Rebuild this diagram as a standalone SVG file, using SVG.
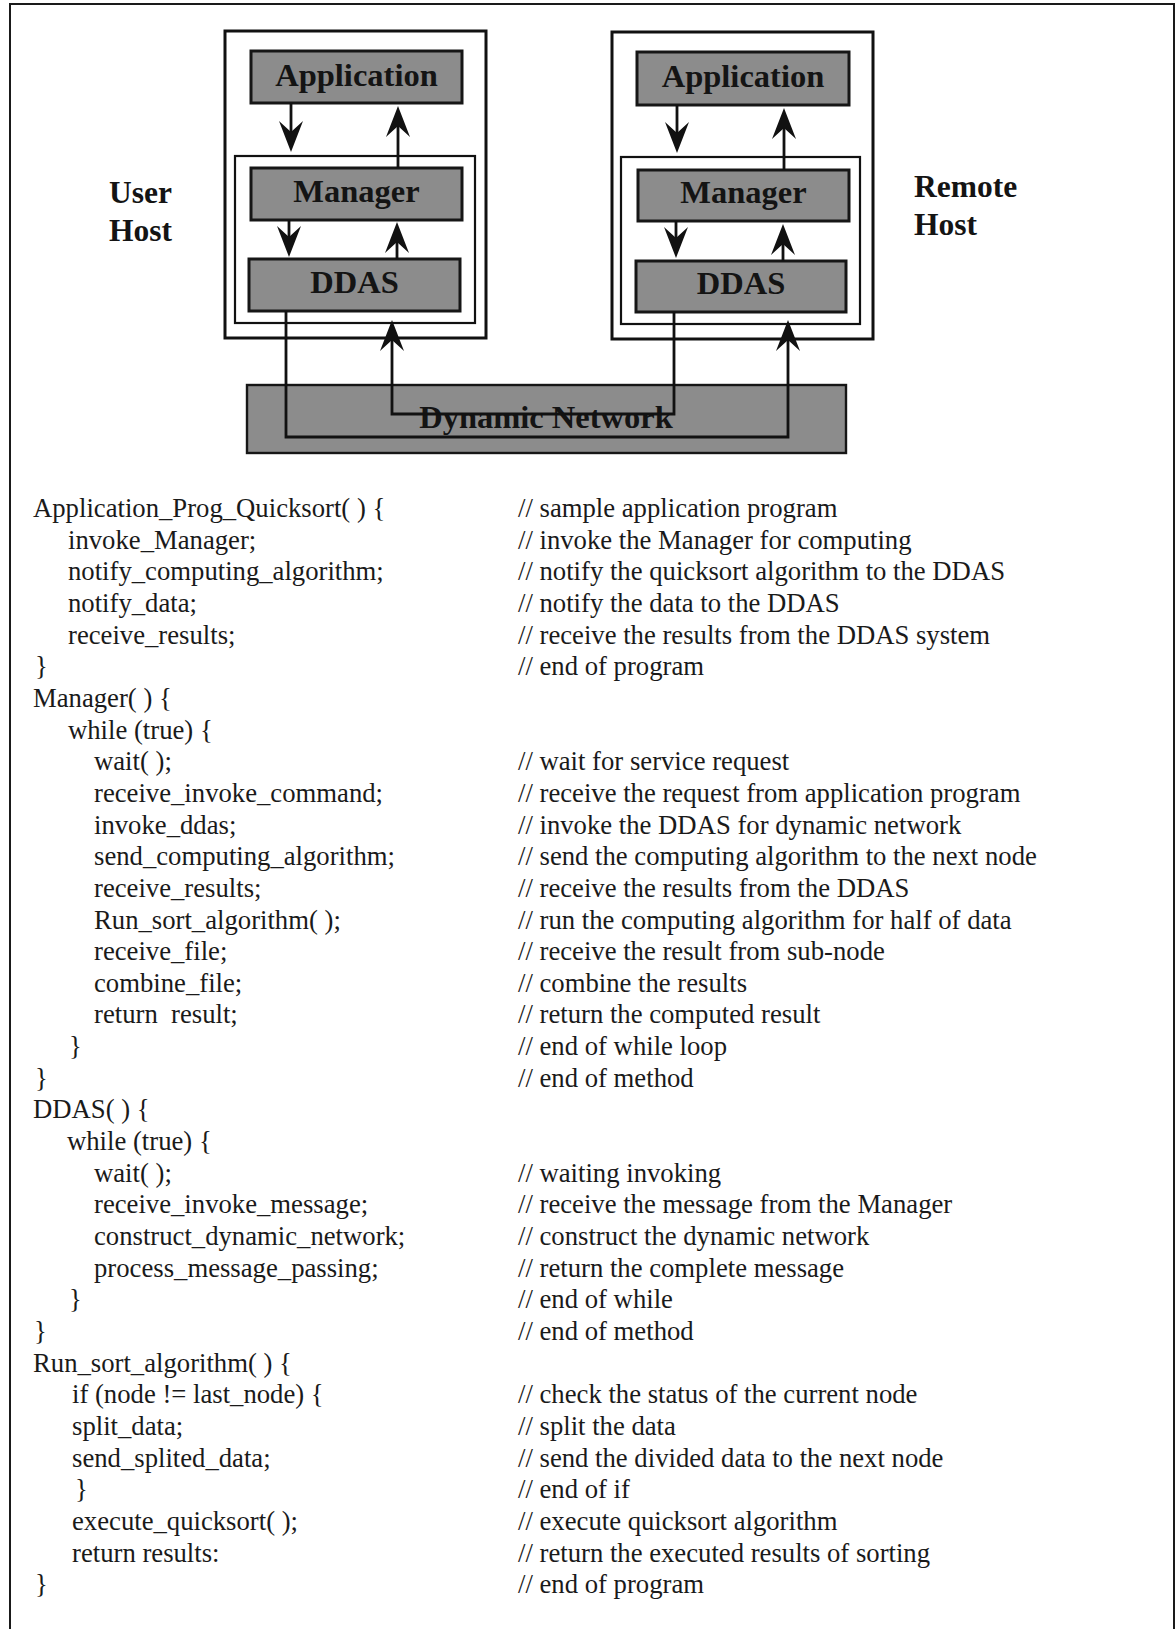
<svg xmlns="http://www.w3.org/2000/svg" width="1176" height="1629" viewBox="0 0 1176 1629">
  <style>
    .host { fill: #ffffff; stroke: #111111; stroke-width: 3; }
    .inner { fill: #ffffff; stroke: #111111; stroke-width: 2.2; }
    .box { fill: #8c8c8c; stroke: #161616; stroke-width: 3; }
    .net { fill: #8c8c8c; stroke: #161616; stroke-width: 2.4; }
    .lbl { font-family: "Liberation Serif", "Times New Roman", serif; font-weight: bold; font-size: 32.5px; fill: #141414; text-anchor: middle; }
    .side { font-family: "Liberation Serif", "Times New Roman", serif; font-weight: bold; font-size: 31.5px; fill: #141414; }
    .code { font-family: "Liberation Serif", "Times New Roman", serif; font-size: 26.7px; fill: #1a1a1a; }
    .flow { fill: none; stroke: #111111; stroke-width: 2.8; marker-end: url(#arrow); }
  </style>
  <defs>
    <!-- notched arrowhead; line ends 10px short of the tip -->
    <marker id="arrow" markerUnits="userSpaceOnUse" viewBox="0 0 31 24" refX="21" refY="12" markerWidth="31" markerHeight="24" orient="auto">
      <path d="M0,0 L31,12 L0,24 L11,12 Z" fill="#111111"/>
    </marker>
  </defs>

  <rect width="1176" height="1629" fill="#ffffff"/>

  <!-- page frame (open at the bottom) -->
  <path d="M10,1629 V4 H1174 V1629" fill="none" stroke="#1a1a1a" stroke-width="2"/>

  <!-- user host -->
  <g id="user-host">
    <rect class="host" x="225" y="31" width="261" height="307"/>
    <rect class="inner" x="235" y="156" width="240" height="167"/>
    <text class="side" x="109" y="203">User</text>
    <text class="side" x="109" y="241">Host</text>
  </g>
  <g id="user-application">
    <rect class="box" x="251" y="51" width="211" height="52"/>
    <text class="lbl" x="356.5" y="86">Application</text>
  </g>
  <g id="user-manager">
    <rect class="box" x="251" y="168" width="211" height="52"/>
    <text class="lbl" x="356.5" y="202">Manager</text>
  </g>
  <g id="user-ddas">
    <rect class="box" x="249" y="259" width="211" height="52"/>
    <text class="lbl" x="354.5" y="293">DDAS</text>
  </g>

  <!-- remote host -->
  <g id="remote-host">
    <rect class="host" x="612" y="32" width="261" height="307"/>
    <rect class="inner" x="621" y="157" width="239" height="167"/>
    <text class="side" x="914" y="197">Remote</text>
    <text class="side" x="914" y="235">Host</text>
  </g>
  <g id="remote-application">
    <rect class="box" x="637" y="52" width="212" height="53"/>
    <text class="lbl" x="743" y="87">Application</text>
  </g>
  <g id="remote-manager">
    <rect class="box" x="638" y="170" width="211" height="51"/>
    <text class="lbl" x="743.5" y="203">Manager</text>
  </g>
  <g id="remote-ddas">
    <rect class="box" x="636" y="261" width="210" height="51"/>
    <text class="lbl" x="741" y="294">DDAS</text>
  </g>

  <!-- network -->
  <g id="dynamic-network">
    <rect class="net" x="247" y="385" width="599" height="68"/>
    <text class="lbl" x="546" y="428">Dynamic Network</text>
  </g>

  <!-- connectors -->
  <g id="connectors">
    <path class="flow" d="M291,103 V142"/>
    <path class="flow" d="M398,168 V116"/>
    <path class="flow" d="M289,220 V247"/>
    <path class="flow" d="M397,259 V232"/>
    <path class="flow" d="M677,105 V143"/>
    <path class="flow" d="M784,170 V118"/>
    <path class="flow" d="M676,221 V248"/>
    <path class="flow" d="M783,261 V234"/>
    <path class="flow" d="M286,311 V437 H788 V330"/>
    <path class="flow" d="M674,312 V414 H392 V330"/>
  </g>

  <!-- pseudo code listing -->
  <g id="code" class="code">
    <text x="33" y="517">Application_Prog_Quicksort( ) {</text>
    <text x="68" y="548.7">invoke_Manager;</text>
    <text x="68" y="580.3">notify_computing_algorithm;</text>
    <text x="68" y="612">notify_data;</text>
    <text x="68" y="643.6">receive_results;</text>
    <text x="35" y="675.3">}</text>
    <text x="33" y="706.9">Manager( ) {</text>
    <text x="68" y="738.6">while (true) {</text>
    <text x="94" y="770.2">wait( );</text>
    <text x="94" y="801.9">receive_invoke_command;</text>
    <text x="94" y="833.5">invoke_ddas;</text>
    <text x="94" y="865.2">send_computing_algorithm;</text>
    <text x="94" y="896.8">receive_results;</text>
    <text x="94" y="928.5">Run_sort_algorithm( );</text>
    <text x="94" y="960.1">receive_file;</text>
    <text x="94" y="991.8">combine_file;</text>
    <text x="94" y="1023.4">return&#160; result;</text>
    <text x="69" y="1055.1">}</text>
    <text x="35" y="1086.7">}</text>
    <text x="33" y="1118.4">DDAS( ) {</text>
    <text x="67" y="1150">while (true) {</text>
    <text x="94" y="1181.7">wait( );</text>
    <text x="94" y="1213.3">receive_invoke_message;</text>
    <text x="94" y="1245">construct_dynamic_network;</text>
    <text x="94" y="1276.6">process_message_passing;</text>
    <text x="69" y="1308.3">}</text>
    <text x="34" y="1339.9">}</text>
    <text x="33" y="1371.6">Run_sort_algorithm( ) {</text>
    <text x="72" y="1403.2">if (node != last_node) {</text>
    <text x="72" y="1434.9">split_data;</text>
    <text x="72" y="1466.5">send_splited_data;</text>
    <text x="75" y="1498.2">}</text>
    <text x="72" y="1529.8">execute_quicksort( );</text>
    <text x="72" y="1561.5">return results:</text>
    <text x="35" y="1593.1">}</text>

    <text x="518" y="517">// sample application program</text>
    <text x="518" y="548.7">// invoke the Manager for computing</text>
    <text x="518" y="580.3">// notify the quicksort algorithm to the DDAS</text>
    <text x="518" y="612">// notify the data to the DDAS</text>
    <text x="518" y="643.6">// receive the results from the DDAS system</text>
    <text x="518" y="675.3">// end of program</text>
    <text x="518" y="770.2">// wait for service request</text>
    <text x="518" y="801.9">// receive the request from application program</text>
    <text x="518" y="833.5">// invoke the DDAS for dynamic network</text>
    <text x="518" y="865.2">// send the computing algorithm to the next node</text>
    <text x="518" y="896.8">// receive the results from the DDAS</text>
    <text x="518" y="928.5">// run the computing algorithm for half of data</text>
    <text x="518" y="960.1">// receive the result from sub-node</text>
    <text x="518" y="991.8">// combine the results</text>
    <text x="518" y="1023.4">// return the computed result</text>
    <text x="518" y="1055.1">// end of while loop</text>
    <text x="518" y="1086.7">// end of method</text>
    <text x="518" y="1181.7">// waiting invoking</text>
    <text x="518" y="1213.3">// receive the message from the Manager</text>
    <text x="518" y="1245">// construct the dynamic network</text>
    <text x="518" y="1276.6">// return the complete message</text>
    <text x="518" y="1308.3">// end of while</text>
    <text x="518" y="1339.9">// end of method</text>
    <text x="518" y="1403.2">// check the status of the current node</text>
    <text x="518" y="1434.9">// split the data</text>
    <text x="518" y="1466.5">// send the divided data to the next node</text>
    <text x="518" y="1498.2">// end of if</text>
    <text x="518" y="1529.8">// execute quicksort algorithm</text>
    <text x="518" y="1561.5">// return the executed results of sorting</text>
    <text x="518" y="1593.1">// end of program</text>
  </g>
</svg>
